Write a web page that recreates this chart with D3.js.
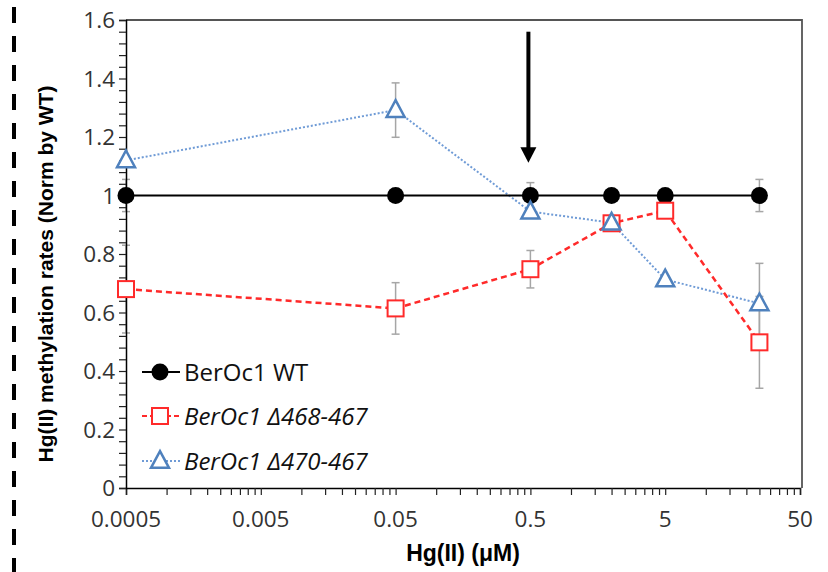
<!DOCTYPE html>
<html><head><meta charset="utf-8">
<script src="https://cdn.jsdelivr.net/npm/d3@7"></script>
<style>html,body{margin:0;padding:0;background:#fff;}</style>
</head><body>
<svg id="c" width="828" height="572"></svg>
<script>
const xValues = [0.0005, 0.05, 0.5, 2, 5, 25];
const wtValues = [1, 1, 1, 1, 1, 1];
const wtErr = [0.055, 0, 0.044, 0, 0, 0.055];
const d468Values = [0.68, 0.614, 0.748, 0.905, 0.948, 0.498];
const d468Err = [0.15, 0.088, 0.064, 0, 0, 0.157];
const d470Values = [1.12, 1.292, 0.945, 0.907, 0.713, 0.631];
const d470Err = [0, 0.093, 0, 0, 0, 0.137];
const xTickValues = [0.0005, 0.005, 0.05, 0.5, 5, 50];
const xTickLabels = ["0.0005", "0.005", "0.05", "0.5", "5", "50"];
const yTickValues = [0, 0.2, 0.4, 0.6, 0.8, 1, 1.2, 1.4, 1.6];
const yTickLabels = ["0", "0.2", "0.4", "0.6", "0.8", "1", "1.2", "1.4", "1.6"];
const seriesNames = ["BerOc1 WT", "BerOc1 \u0394468-467", "BerOc1 \u0394470-467"];

const svg = d3.select("#c");
const x = d3.scaleLog().domain([0.0005, 50]).range([126, 800]);
const y = d3.scaleLinear().domain([0, 1.6]).range([488, 20]);
const tickFont = "'Open Sans', sans-serif";
const txtCol = "#333";

// left dashed separator
svg.append("line").attr("x1", 14).attr("x2", 14).attr("y1", 7).attr("y2", 572)
  .attr("stroke", "#000").attr("stroke-width", 4).attr("stroke-dasharray", "16,13");

// plot border (top & right)
svg.append("path")
  .attr("d", `M${x(0.0005)},${y(1.6)}H802V${y(0)}`)
  .attr("fill", "none").attr("stroke", "#555").attr("stroke-width", 1.8);

// error bars
function errBars(vals, errs) {
  const g = svg.append("g").attr("stroke", "#a6a6a6").attr("stroke-width", 1.5);
  vals.forEach((v, i) => {
    if (!errs[i]) return;
    const cx = x(xValues[i]);
    g.append("line").attr("x1", cx).attr("x2", cx).attr("y1", y(v - errs[i])).attr("y2", y(v + errs[i]));
    [v - errs[i], v + errs[i]].forEach(e => g.append("line").attr("x1", cx - 4).attr("x2", cx + 4).attr("y1", y(e)).attr("y2", y(e)));
  });
}
errBars(wtValues, wtErr);
errBars(d468Values, d468Err);
errBars(d470Values, d470Err);

// x ticks
const xMinor = [];
for (let d = 0; d < 5; d++) for (let k = 2; k <= 9; k++) xMinor.push(0.0005 * Math.pow(10, d) * k);
const xAxis = d3.axisBottom(x).tickValues(xMinor.concat(xTickValues)).tickSize(7).tickFormat("");
const gx = svg.append("g").attr("transform", `translate(0,${y(0)})`).call(xAxis);
gx.select(".domain").attr("stroke", "#000").attr("stroke-width", 1.5);
gx.selectAll(".tick line").attr("stroke", "#222").attr("stroke-width", 1.2);
svg.append("g").selectAll("text").data(xTickValues).join("text")
  .attr("x", d => x(d)).attr("y", 527).attr("text-anchor", "middle")
  .attr("font-family", tickFont).attr("font-size", 22.5).attr("fill", txtCol)
  .text((d, i) => xTickLabels[i]);

// y ticks
const yMinor = d3.range(0, 41).map(i => i * 0.04);
const yAxis = d3.axisLeft(y).tickValues(yMinor).tickSize(7).tickFormat("");
const gy = svg.append("g").attr("transform", `translate(${x(0.0005)},0)`).call(yAxis);
gy.select(".domain").attr("stroke", "#000").attr("stroke-width", 1.5);
gy.selectAll(".tick line").attr("stroke", "#222").attr("stroke-width", 1.2);
svg.append("g").selectAll("text").data(yTickValues).join("text")
  .attr("x", 115).attr("y", d => y(d)).attr("dy", "0.36em").attr("text-anchor", "end")
  .attr("font-family", tickFont).attr("font-size", 22.5).attr("fill", txtCol)
  .text((d, i) => yTickLabels[i]);

// axis titles
svg.append("text").attr("x", 463).attr("y", 561).attr("text-anchor", "middle")
  .attr("font-family", "'Liberation Sans', Arial, sans-serif").attr("font-weight", "bold")
  .attr("font-size", 23).attr("fill", "#000").text("Hg(II) (\u03bcM)");
svg.append("text").attr("transform", "translate(53,274) rotate(-90)").attr("text-anchor", "middle")
  .attr("font-family", "'Liberation Sans', Arial, sans-serif").attr("font-weight", "bold")
  .attr("font-size", 21).attr("fill", "#000").text("Hg(II) methylation rates (Norm by WT)");

const line = d3.line().x((d, i) => x(xValues[i])).y(d => y(d));
const blue = "#4f81bd", red = "#ff2a2a";
svg.append("path").datum(d470Values).attr("d", line).attr("fill", "none")
  .attr("stroke", "#6f9bd6").attr("stroke-width", 2).attr("stroke-dasharray", "2,2");
svg.append("path").datum(d468Values).attr("d", line).attr("fill", "none")
  .attr("stroke", red).attr("stroke-width", 2.5).attr("stroke-dasharray", "6,4");
svg.append("path").datum(wtValues).attr("d", line).attr("fill", "none")
  .attr("stroke", "#000").attr("stroke-width", 2);

const tri = s => `M0,${-s * 0.55}L${s / 2},${s * 0.38}L${-s / 2},${s * 0.38}Z`;
svg.append("g").selectAll("circle").data(wtValues).join("circle")
  .attr("cx", (d, i) => x(xValues[i])).attr("cy", d => y(d)).attr("r", 8.5).attr("fill", "#000");
svg.append("g").selectAll("rect").data(d468Values).join("rect")
  .attr("x", (d, i) => x(xValues[i]) - 8).attr("y", d => y(d) - 8).attr("width", 16).attr("height", 16)
  .attr("fill", "#fff").attr("stroke", red).attr("stroke-width", 2);
svg.append("g").selectAll("path").data(d470Values).join("path")
  .attr("transform", (d, i) => `translate(${x(xValues[i])},${y(d)})`).attr("d", tri(18))
  .attr("fill", "#fff").attr("stroke", blue).attr("stroke-width", 2.5);

// arrow annotation
const ax = x(0.5) - 2;
svg.append("line").attr("x1", ax).attr("x2", ax).attr("y1", y(1.56)).attr("y2", y(1.16))
  .attr("stroke", "#000").attr("stroke-width", 4);
svg.append("path").attr("d", `M${ax - 8},${y(1.165)}L${ax + 8},${y(1.165)}L${ax},${y(1.112)}Z`).attr("fill", "#000");

// legend
const legY = [372, 416, 461];
const lg = svg.append("g");
lg.append("line").attr("x1", 142).attr("x2", 180).attr("y1", legY[0]).attr("y2", legY[0]).attr("stroke", "#000").attr("stroke-width", 2);
lg.append("circle").attr("cx", 160).attr("cy", legY[0]).attr("r", 8.5).attr("fill", "#000");
lg.append("line").attr("x1", 142).attr("x2", 180).attr("y1", legY[1]).attr("y2", legY[1]).attr("stroke", red).attr("stroke-width", 2).attr("stroke-dasharray", "5,3");
lg.append("rect").attr("x", 152).attr("y", legY[1] - 8).attr("width", 16).attr("height", 16).attr("fill", "#fff").attr("stroke", red).attr("stroke-width", 2);
lg.append("line").attr("x1", 142).attr("x2", 180).attr("y1", legY[2]).attr("y2", legY[2]).attr("stroke", "#6f9bd6").attr("stroke-width", 2).attr("stroke-dasharray", "2,2");
lg.append("path").attr("transform", `translate(160,${legY[2]})`).attr("d", tri(18)).attr("fill", "#fff").attr("stroke", blue).attr("stroke-width", 2.5);
lg.selectAll("text").data(seriesNames).join("text")
  .attr("x", 184).attr("y", (d, i) => legY[i]).attr("dy", "0.36em")
  .attr("font-family", tickFont).attr("font-size", 24).attr("fill", "#111")
  .attr("font-style", (d, i) => i === 0 ? "normal" : "italic").text(d => d);
</script>
</body></html>
